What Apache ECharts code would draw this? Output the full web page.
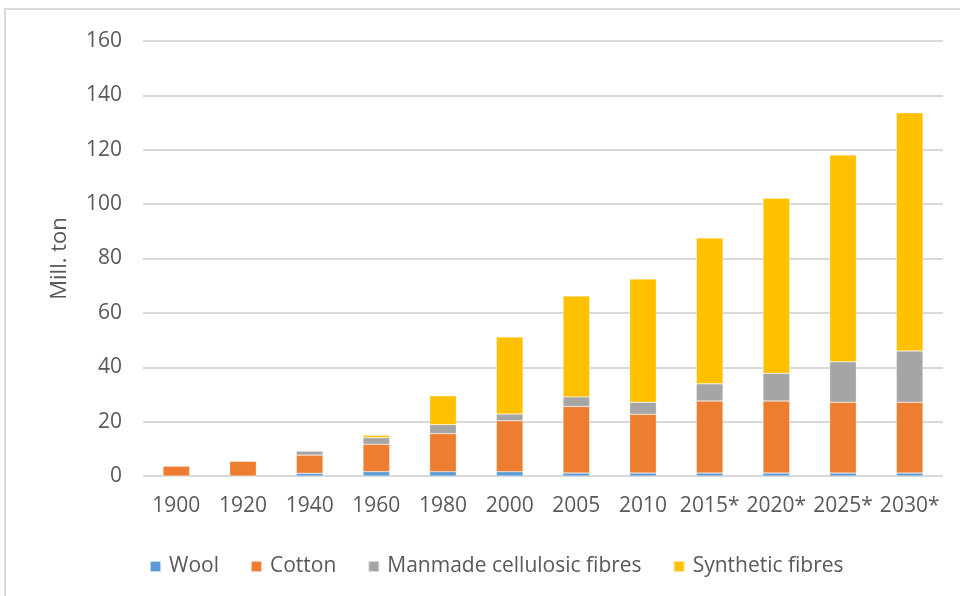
<!DOCTYPE html>
<html><head><meta charset="utf-8">
<script src="https://cdn.jsdelivr.net/npm/echarts@6/dist/echarts.min.js"></script>
<style>html,body{margin:0;padding:0;background:#fff}#c{width:960px;height:596px}</style>
</head><body><div id="c"></div>
<script>
const categories = ['1900','1920','1940','1960','1980','2000','2005','2010','2015*','2020*','2025*','2030*'];
const wool = [0, 0, 1.0, 1.6, 1.6, 1.6, 1.1, 1.1, 1.1, 1.1, 1.1, 1.1];
const cotton = [3.7, 5.5, 6.7, 10.1, 14.0, 18.7, 24.5, 21.6, 26.5, 26.5, 26.0, 26.0];
const cellulosic = [0, 0, 1.5, 2.4, 3.3, 2.5, 3.5, 4.4, 6.3, 10.2, 14.9, 18.9];
const synthetic = [0, 0, 0, 0.9, 10.6, 28.3, 37.1, 45.4, 53.6, 64.4, 76.1, 87.6];
const yTicks = [0, 20, 40, 60, 80, 100, 120, 140, 160];

const font = 'Open Sans, Noto Sans, sans-serif';
const txt = '#595959';
const chart = echarts.init(document.getElementById('c'));
function s(name, data, color) {
  return { name, type: 'bar', stack: 'total', data, barWidth: '40%',
    itemStyle: { color, borderColor: 'rgba(255,255,255,0.6)', borderWidth: 0.5 } };
}
chart.setOption({
  animation: false,
  graphic: [{ type: 'rect', shape: { x: 5, y: 9, width: 1000, height: 700 },
    style: { fill: 'none', stroke: '#d9d9d9', lineWidth: 2 } }],
  grid: { left: 143, right: 17, top: 41, bottom: 120 },
  legend: { top: 551, left: 144, itemWidth: 11, itemHeight: 11, itemGap: 31,
    icon: 'rect', textStyle: { color: txt, fontSize: 21, fontFamily: font, padding: [0, 0, 0, 3] } },
  xAxis: { type: 'category', data: categories,
    axisLine: { show: false }, axisTick: { show: false },
    axisLabel: { color: txt, fontSize: 21, fontFamily: font, margin: 20, interval: 0, hideOverlap: false } },
  yAxis: { type: 'value', min: yTicks[0], max: yTicks[yTicks.length - 1], interval: 20,
    name: 'Mill. ton', nameLocation: 'middle', nameGap: 72, nameRotate: 90,
    nameTextStyle: { color: txt, fontSize: 22, fontFamily: font },
    axisLine: { show: false }, axisTick: { show: false },
    axisLabel: { color: txt, fontSize: 21, fontFamily: font, margin: 21 },
    splitLine: { lineStyle: { color: '#d9d9d9', width: 2 } } },
  series: [
    s('Wool', wool, '#5b9bd5'),
    s('Cotton', cotton, '#ed7d31'),
    s('Manmade cellulosic fibres', cellulosic, '#a5a5a5'),
    s('Synthetic fibres', synthetic, '#ffc000')
  ]
});
</script></body></html>
